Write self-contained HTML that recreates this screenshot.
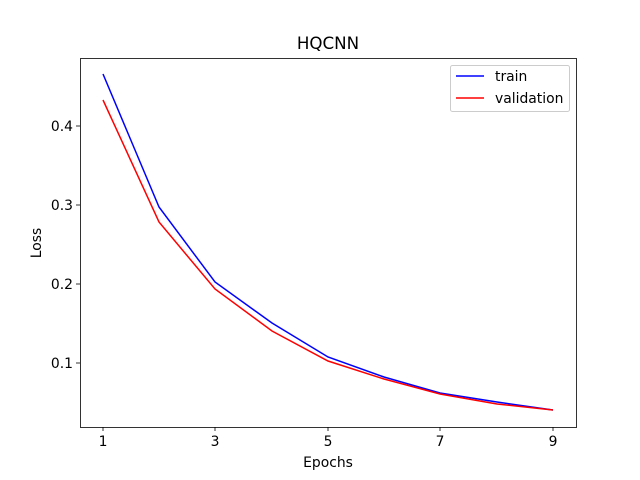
<!DOCTYPE html>
<html><head><meta charset="utf-8"><style>body{margin:0;background:#fff}svg{display:block}text{font-family:"DejaVu Sans","Liberation Sans",sans-serif;fill:#000}</style></head>
<body>
<svg width="640" height="480" viewBox="0 0 640 480" xmlns="http://www.w3.org/2000/svg">
<rect width="640" height="480" fill="#fff"/>
<text x="328" y="49" font-size="16.7" text-anchor="middle">HQCNN</text>
<polyline fill="none" stroke="#0000ff" stroke-width="1.5" points="103,74 159,207 215,282 272,323 328,357 384,377 440,393 497,402 553,410"/>
<polyline fill="none" stroke="#ff0000" stroke-width="1.5" points="103,100 159,222 215,289 272,331 328,361 384,379 440,394 497,404 553,410"/>
<rect x="80.5" y="58.5" width="496" height="369" fill="none" stroke="#000" stroke-width="0.8"/>
<g stroke="#000" stroke-width="0.8">
<line x1="103" y1="427" x2="103" y2="431"/><line x1="215" y1="427" x2="215" y2="431"/><line x1="328" y1="427" x2="328" y2="431"/><line x1="440" y1="427" x2="440" y2="431"/><line x1="553" y1="427" x2="553" y2="431"/>
<line x1="76" y1="126" x2="80" y2="126"/><line x1="76" y1="205" x2="80" y2="205"/><line x1="76" y1="284" x2="80" y2="284"/><line x1="76" y1="363" x2="80" y2="363"/>
</g>
<g font-size="13.9" text-anchor="middle">
<text x="103" y="446">1</text><text x="215" y="446">3</text><text x="328" y="446">5</text><text x="440" y="446">7</text><text x="553" y="446">9</text>
<text x="328" y="467">Epochs</text>
</g>
<g font-size="13.9" text-anchor="end">
<text x="73" y="131">0.4</text><text x="73" y="210">0.3</text><text x="73" y="289">0.2</text><text x="73" y="368">0.1</text>
</g>
<text x="0" y="0" font-size="13.9" text-anchor="middle" transform="translate(41,243) rotate(-90)">Loss</text>
<rect x="450.5" y="65.5" width="119" height="46" rx="2" fill="#fff" stroke="#ccc"/>
<line x1="456" y1="76" x2="484" y2="76" stroke="#0000ff" stroke-width="1.5"/>
<line x1="456" y1="98" x2="484" y2="98" stroke="#ff0000" stroke-width="1.5"/>
<text x="495" y="81" font-size="13.9">train</text>
<text x="495" y="103" font-size="13.9">validation</text>
</svg>
</body></html>
